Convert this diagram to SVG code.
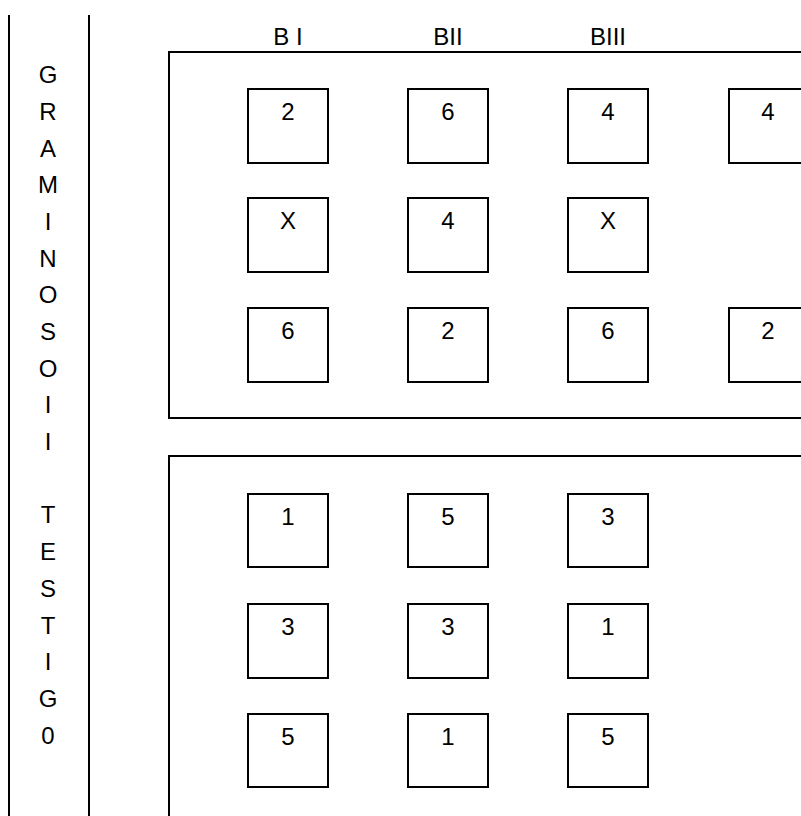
<svg xmlns="http://www.w3.org/2000/svg" width="801" height="816" viewBox="0 0 801 816">
<style>
.ln{stroke:#000;stroke-width:2;fill:none}
.bx{stroke:#000;stroke-width:2;fill:#fff}
.t{font-family:"Liberation Sans",Arial,sans-serif;font-size:24px;fill:#000;text-anchor:middle}
</style>
<rect width="801" height="816" fill="#fff"/>
<g id="frame">
<line class="ln" x1="9" y1="15" x2="9" y2="816"/>
<line class="ln" x1="89" y1="15" x2="89" y2="816"/>
</g>
<g id="side-label" class="t">
<text x="48" y="83">G</text>
<text x="48" y="120">R</text>
<text x="48" y="157">A</text>
<text x="48" y="193">M</text>
<text x="48" y="230">I</text>
<text x="48" y="267">N</text>
<text x="48" y="303">O</text>
<text x="48" y="340">S</text>
<text x="48" y="377">O</text>
<text x="48" y="413">I</text>
<text x="48" y="450">I</text>
<text x="48" y="523">T</text>
<text x="48" y="560">E</text>
<text x="48" y="597">S</text>
<text x="48" y="634">T</text>
<text x="48" y="670">I</text>
<text x="48" y="707">G</text>
<text x="48" y="744">0</text>
</g>
<g id="headers" class="t">
<text x="288" y="45">B I</text>
<text x="448" y="45">BII</text>
<text x="608" y="45">BIII</text>
</g>
<g id="panel-upper">
<rect class="ln" x="169" y="52" width="700" height="366"/>
</g>
<g id="panel-lower">
<rect class="ln" x="169" y="456" width="700" height="500"/>
</g>
<g id="u11"><rect class="bx" x="248" y="89" width="80" height="74"/><text class="t" x="288" y="120">2</text></g>
<g id="u12"><rect class="bx" x="408" y="89" width="80" height="74"/><text class="t" x="448" y="120">6</text></g>
<g id="u13"><rect class="bx" x="568" y="89" width="80" height="74"/><text class="t" x="608" y="120">4</text></g>
<g id="u14"><rect class="bx" x="729" y="89" width="100" height="74"/><text class="t" x="768" y="120">4</text></g>
<g id="u21"><rect class="bx" x="248" y="198" width="80" height="74"/><text class="t" x="288" y="229">X</text></g>
<g id="u22"><rect class="bx" x="408" y="198" width="80" height="74"/><text class="t" x="448" y="229">4</text></g>
<g id="u23"><rect class="bx" x="568" y="198" width="80" height="74"/><text class="t" x="608" y="229">X</text></g>
<g id="u31"><rect class="bx" x="248" y="308" width="80" height="74"/><text class="t" x="288" y="339">6</text></g>
<g id="u32"><rect class="bx" x="408" y="308" width="80" height="74"/><text class="t" x="448" y="339">2</text></g>
<g id="u33"><rect class="bx" x="568" y="308" width="80" height="74"/><text class="t" x="608" y="339">6</text></g>
<g id="u34"><rect class="bx" x="729" y="308" width="100" height="74"/><text class="t" x="768" y="339">2</text></g>
<g id="l11"><rect class="bx" x="248" y="494" width="80" height="73"/><text class="t" x="288" y="525">1</text></g>
<g id="l12"><rect class="bx" x="408" y="494" width="80" height="73"/><text class="t" x="448" y="525">5</text></g>
<g id="l13"><rect class="bx" x="568" y="494" width="80" height="73"/><text class="t" x="608" y="525">3</text></g>
<g id="l21"><rect class="bx" x="248" y="604" width="80" height="74"/><text class="t" x="288" y="635">3</text></g>
<g id="l22"><rect class="bx" x="408" y="604" width="80" height="74"/><text class="t" x="448" y="635">3</text></g>
<g id="l23"><rect class="bx" x="568" y="604" width="80" height="74"/><text class="t" x="608" y="635">1</text></g>
<g id="l31"><rect class="bx" x="248" y="714" width="80" height="73"/><text class="t" x="288" y="745">5</text></g>
<g id="l32"><rect class="bx" x="408" y="714" width="80" height="73"/><text class="t" x="448" y="745">1</text></g>
<g id="l33"><rect class="bx" x="568" y="714" width="80" height="73"/><text class="t" x="608" y="745">5</text></g>
<g id="connectors"/>
</svg>
